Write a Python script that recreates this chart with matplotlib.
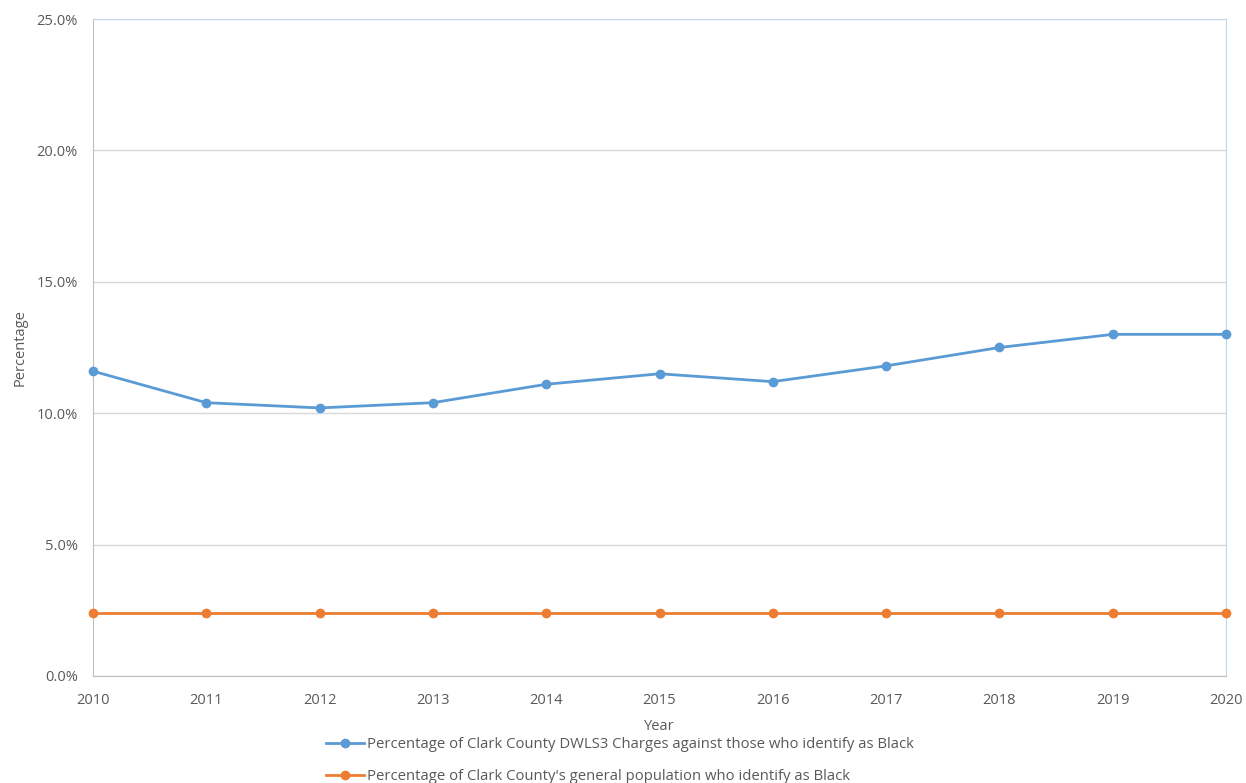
import matplotlib.pyplot as plt
from matplotlib.ticker import PercentFormatter

years = [2010, 2011, 2012, 2013, 2014, 2015, 2016, 2017, 2018, 2019, 2020]
dwls3_black = [11.6, 10.4, 10.2, 10.4, 11.1, 11.5, 11.2, 11.8, 12.5, 13.0, 13.0]
population_black = [2.4, 2.4, 2.4, 2.4, 2.4, 2.4, 2.4, 2.4, 2.4, 2.4, 2.4]
series_labels = [
    "Percentage of Clark County DWLS3 Charges against those who identify as Black",
    "Percentage of Clark County's general population who identify as Black",
]

plt.rcParams["font.family"] = ["Open Sans", "DejaVu Sans"]
text_color = "#595959"

fig = plt.figure(figsize=(12.46, 7.83), dpi=100)
ax = fig.add_axes([0.0746, 0.1367, 0.9094, 0.839])

blue = "#5B9BD5"
orange = "#ED7D31"
ax.plot(years, dwls3_black, color=blue, linewidth=2, marker="o", markersize=6,
        label=series_labels[0], zorder=3, clip_on=False)
ax.plot(years, population_black, color=orange, linewidth=2, marker="o", markersize=6,
        label=series_labels[1], zorder=3, clip_on=False)

ax.set_xlim(2010, 2020)
ax.set_ylim(0, 25)
ax.set_xticks(years)
ax.set_yticks([0, 5, 10, 15, 20, 25])
ax.yaxis.set_major_formatter(PercentFormatter(decimals=1))
ax.grid(axis="y", color="#D9D9D9", linewidth=1)
ax.set_axisbelow(True)

for side in ["top", "right"]:
    ax.spines[side].set_color("#BDD7EE")
for side in ["left", "bottom"]:
    ax.spines[side].set_color("#BFBFBF")
ax.tick_params(axis="x", length=0, labelsize=10.5, colors=text_color, pad=12)
ax.tick_params(axis="y", length=0, labelsize=10.5, colors=text_color, pad=11)

ax.set_xlabel("Year", fontsize=10.5, color=text_color, labelpad=8)
ax.set_ylabel("Percentage", fontsize=10.5, color=text_color, labelpad=6)

# legend sits under the axis, partly cut by the figure edge like the original
fig.legend(loc="upper left", bbox_to_anchor=(0.2555, 0.068), frameon=False,
           fontsize=10.7, labelcolor=text_color, handlelength=2.6, handletextpad=0.2,
           labelspacing=1.15, borderpad=0)

fig.savefig("out.png", dpi=100)
